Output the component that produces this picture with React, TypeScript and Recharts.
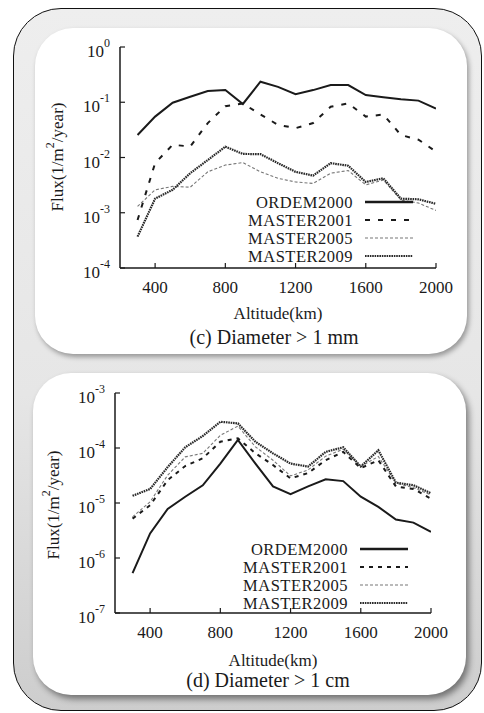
import React from 'react';
import { LineChart, Line, XAxis, YAxis } from 'recharts';

const altitudes = [300, 400, 500, 600, 700, 800, 900, 1000, 1100, 1200, 1300, 1400, 1500, 1600, 1700, 1800, 1900, 2000];
const xTicks = [400, 800, 1200, 1600, 2000];

// Panel (c) Diameter > 1 mm
const ordem2000C = [0.0256, 0.055, 0.098, 0.126, 0.16, 0.166, 0.093, 0.235, 0.19, 0.14, 0.166, 0.205, 0.205, 0.135, 0.123, 0.113, 0.107, 0.077];
const master2001C = [0.00074, 0.0079, 0.017, 0.0158, 0.042, 0.085, 0.095, 0.06, 0.039, 0.034, 0.042, 0.083, 0.095, 0.055, 0.06, 0.0255, 0.021, 0.0128];
const master2005C = [0.0013, 0.0026, 0.003, 0.0029, 0.0055, 0.0073, 0.0081, 0.0055, 0.0042, 0.0036, 0.0034, 0.0052, 0.0058, 0.0032, 0.0039, 0.0017, 0.0015, 0.0011];
const master2009C = [0.00037, 0.0018, 0.0026, 0.0052, 0.009, 0.0157, 0.0116, 0.0115, 0.0079, 0.0055, 0.0047, 0.0079, 0.0071, 0.0036, 0.0042, 0.0018, 0.00175, 0.00145];
const yTicksC = [1e-4, 1e-3, 1e-2, 1e-1, 1];

// Panel (d) Diameter > 1 cm
const ordem2000D = [5.3e-7, 2.8e-6, 7.8e-6, 1.3e-5, 2.1e-5, 5.2e-5, 1.4e-4, 5.2e-5, 2.0e-5, 1.45e-5, 2.0e-5, 2.7e-5, 2.5e-5, 1.3e-5, 8.5e-6, 5.0e-6, 4.4e-6, 3.0e-6];
const master2001D = [5.2e-6, 9.1e-6, 2.6e-5, 4.7e-5, 6.5e-5, 1.3e-4, 1.5e-4, 8e-5, 4.9e-5, 2.8e-5, 3.5e-5, 6.0e-5, 8.5e-5, 4.3e-5, 6.0e-5, 2.0e-5, 1.8e-5, 1.2e-5];
const master2005D = [5.6e-6, 1.05e-5, 3.2e-5, 6.9e-5, 8.0e-5, 1.7e-4, 2.5e-4, 1.05e-4, 6.0e-5, 3.1e-5, 4.0e-5, 7.1e-5, 9.5e-5, 4.6e-5, 7.0e-5, 2.3e-5, 1.9e-5, 1.4e-5];
const master2009D = [1.35e-5, 1.8e-5, 4.5e-5, 1.03e-4, 1.65e-4, 3.0e-4, 2.8e-4, 1.3e-4, 8.0e-5, 5.2e-5, 4.6e-5, 8.5e-5, 1.03e-4, 4.6e-5, 9.1e-5, 2.35e-5, 2.1e-5, 1.5e-5];
const yTicksD = [1e-7, 1e-6, 1e-5, 1e-4, 1e-3];

const seriesNames = ['ORDEM2000', 'MASTER2001', 'MASTER2005', 'MASTER2009'];

const FONT = "'Liberation Serif', 'DejaVu Serif', 'Times New Roman', serif";
const INK = '#1a1a1a';

const buildRows = (a: number[], b: number[], c: number[], d: number[]) =>
  altitudes.map((alt, i) => ({ alt, ordem: a[i], m2001: b[i], m2005: c[i], m2009: d[i] }));

const dataC = buildRows(ordem2000C, master2001C, master2005C, master2009C);
const dataD = buildRows(ordem2000D, master2001D, master2005D, master2009D);

const styles = (dash2001: string) => [
  { key: 'ordem', stroke: INK, width: 2, dash: undefined as string | undefined },
  { key: 'm2001', stroke: INK, width: 2, dash: dash2001 },
  { key: 'm2005', stroke: '#777', width: 1.1, dash: '3 2' },
  { key: 'm2009', stroke: '#2a2a2a', width: 2.2, dash: '1.6 0.8' },
];

const YTick = (props: any) => {
  const { x, y, payload } = props;
  const exp = Math.round(Math.log10(payload.value));
  return (
    <g>
      <line x1={x} x2={x + 5} y1={y} y2={y} stroke={INK} strokeWidth={1.2} />
      <text x={x - 10} y={y + 10} textAnchor="end" fontFamily={FONT} fontSize={17} fill={INK}>
        10<tspan dy={-10} fontSize={12}>{`${exp}`}</tspan>
      </text>
    </g>
  );
};

const XTick = (props: any) => {
  const { x, y, payload } = props;
  return (
    <g>
      <line x1={x} x2={x} y1={y} y2={y - 5} stroke={INK} strokeWidth={1.2} />
      <text x={x} y={y + 25} textAnchor="middle" fontFamily={FONT} fontSize={17} fill={INK}>
        {payload.value}
      </text>
    </g>
  );
};

type PanelProps = {
  data: any[];
  top: number;
  height: number;
  yAxisWidth: number;
  marginTop: number;
  marginRight: number;
  xAxisHeight: number;
  domain: [number, number];
  yTicks: number[];
  dash2001: string;
};

const Panel = (p: PanelProps) => (
  <div style={{ position: 'absolute', left: 0, top: p.top }}>
    <LineChart
      width={484}
      height={p.height}
      data={p.data}
      margin={{ top: p.marginTop, right: p.marginRight, left: 0, bottom: 0 }}
    >
      <XAxis
        dataKey="alt"
        type="number"
        domain={[200, 2000]}
        ticks={xTicks}
        interval={0}
        height={p.xAxisHeight}
        tickSize={0}
        tickMargin={0}
        tickLine={false}
        tick={<XTick />}
        axisLine={{ stroke: INK, strokeWidth: 1.5 }}
        allowDataOverflow
      />
      <YAxis
        type="number"
        scale="log"
        domain={p.domain}
        ticks={p.yTicks}
        interval={0}
        width={p.yAxisWidth}
        tickSize={0}
        tickMargin={0}
        tickLine={false}
        tick={<YTick />}
        axisLine={{ stroke: INK, strokeWidth: 1.5 }}
        allowDataOverflow
      />
      {styles(p.dash2001).map((s) => (
        <Line
          key={s.key}
          dataKey={s.key}
          type="linear"
          stroke={s.stroke}
          strokeWidth={s.width}
          strokeDasharray={s.dash}
          dot={false}
          isAnimationActive={false}
        />
      ))}
    </LineChart>
  </div>
);

type OverlayProps = {
  top: number;
  yLabelX: number;
  yLabelY: number;
  xLabelX: number;
  xLabelY: number;
  capX: number;
  capY: number;
  caption: string;
  legTextRight: number;
  legLineX1: number;
  legLineX2: number;
  legRows: number[];
  dash2001: string;
};

const Overlay = (o: OverlayProps) => {
  const st = styles(o.dash2001);
  return (
    <svg
      width={484}
      height={380}
      style={{ position: 'absolute', left: 0, top: o.top, pointerEvents: 'none' }}
    >
      <text
        x={o.yLabelX}
        y={o.yLabelY}
        transform={`rotate(-90, ${o.yLabelX}, ${o.yLabelY})`}
        textAnchor="middle"
        dominantBaseline="central"
        fontFamily={FONT}
        fontSize={17}
        fill={INK}
      >
        Flux(1/m<tspan dy={-7} fontSize={12}>2</tspan>
        <tspan dy={7}>/year)</tspan>
      </text>
      <text x={o.xLabelX} y={o.xLabelY + 6} textAnchor="middle" fontFamily={FONT} fontSize={17} fill={INK}>
        Altitude(km)
      </text>
      <text x={o.capX} y={o.capY + 7} textAnchor="middle" fontFamily={FONT} fontSize={20} fill={INK}>
        {o.caption}
      </text>
      {seriesNames.map((name, i) => (
        <g key={name}>
          <text
            x={o.legTextRight}
            y={o.legRows[i] + 6}
            textAnchor="end"
            fontFamily={FONT}
            fontSize={16.5}
            letterSpacing={0.5}
            fill={INK}
          >
            {name}
          </text>
          <line
            x1={o.legLineX1}
            x2={o.legLineX2}
            y1={o.legRows[i]}
            y2={o.legRows[i]}
            stroke={st[i].stroke}
            strokeWidth={st[i].width + (i === 0 ? 0.5 : 0)}
            strokeDasharray={st[i].dash}
          />
        </g>
      ))}
    </svg>
  );
};

export default function App() {
  return (
    <div
      style={{
        position: 'absolute',
        left: 0,
        top: 0,
        width: 484,
        height: 713,
        background: '#ffffff',
        overflow: 'hidden',
        fontFamily: FONT,
      }}
    >
      <div
        style={{
          position: 'absolute',
          left: 13,
          top: 8,
          width: 469,
          height: 703,
          boxSizing: 'border-box',
          border: '1.5px solid #111',
          borderRadius: 48,
          background: 'linear-gradient(#eeeeee, #e6e6e6 55%, #cdcdcd)',
        }}
      />
      <div
        style={{
          position: 'absolute',
          left: 35,
          top: 28,
          width: 432,
          height: 326,
          borderRadius: 38,
          background: '#fff',
          boxShadow: '2px 3px 5px rgba(0,0,0,0.35)',
        }}
      />
      <div
        style={{
          position: 'absolute',
          left: 33,
          top: 373,
          width: 433,
          height: 322,
          borderRadius: 38,
          background: '#fff',
          boxShadow: '3px 4px 6px rgba(0,0,0,0.45)',
        }}
      />
      <Panel
        data={dataC}
        top={0}
        height={360}
        yAxisWidth={120}
        marginTop={47}
        marginRight={48}
        xAxisHeight={92}
        domain={[1e-4, 1]}
        yTicks={yTicksC}
        dash2001="5 8"
      />
      <Panel
        data={dataD}
        top={350}
        height={363}
        yAxisWidth={115}
        marginTop={43}
        marginRight={53}
        xAxisHeight={100}
        domain={[1e-7, 1e-3]}
        yTicks={yTicksD}
        dash2001="4 5"
      />
      <Overlay
        top={0}
        yLabelX={57}
        yLabelY={157}
        xLabelX={278}
        xLabelY={313}
        capX={274}
        capY={337}
        caption="(c) Diameter > 1 mm"
        legTextRight={353}
        legLineX1={365}
        legLineX2={413}
        legRows={[202, 220, 238, 256]}
        dash2001="5 8"
      />
      <Overlay
        top={350}
        yLabelX={53}
        yLabelY={155}
        xLabelX={273}
        xLabelY={310}
        capX={268}
        capY={330}
        caption="(d) Diameter > 1 cm"
        legTextRight={348}
        legLineX1={360}
        legLineX2={408}
        legRows={[199, 217, 235, 253]}
        dash2001="4 5"
      />
    </div>
  );
}
